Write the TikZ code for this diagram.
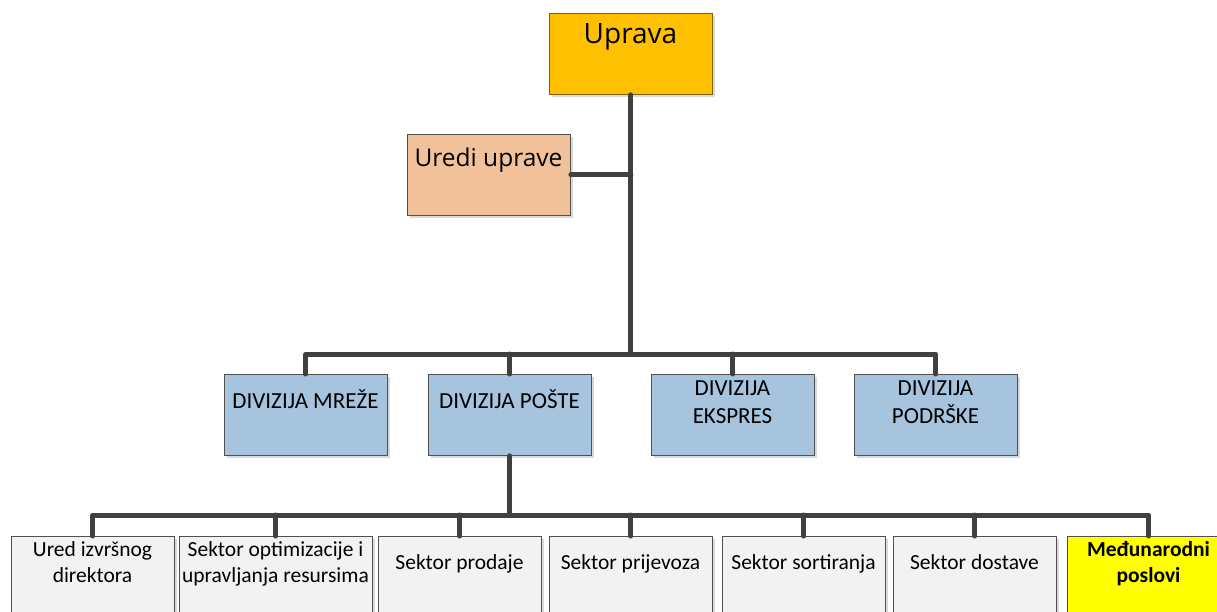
\documentclass[tikz,border=0pt]{standalone}
\usepackage{fontspec}
\setmainfont{Carlito}
\newfontfamily\osans{Open Sans}
\usetikzlibrary{shadows}
\definecolor{conncol}{HTML}{404040}
\definecolor{upravafill}{HTML}{FFC000}
\definecolor{upravaedge}{HTML}{7F6000}
\definecolor{uredfill}{HTML}{F1C29A}
\definecolor{divfill}{HTML}{A7C4DF}
\definecolor{secfill}{HTML}{F2F2F2}
\definecolor{boxedge}{HTML}{505050}
\definecolor{yel}{HTML}{FFFF00}
\begin{document}
\begin{tikzpicture}[x=1pt,y=-1pt,
  box/.style={draw=boxedge, line width=0.8pt, inner sep=0pt, anchor=north west,
    drop shadow={shadow xshift=3pt, shadow yshift=-3pt, fill=black!15, opacity=1}},
  topbox/.style={box, minimum width=163pt, minimum height=81pt},
  divbox/.style={box, fill=divfill, minimum width=163pt, minimum height=81pt},
  secbox/.style={box, fill=secfill, minimum width=163pt, minimum height=110pt},
  conn/.style={draw=conncol, line width=5pt, line cap=round, line join=round},
  lbl/.style={align=center, inner sep=0pt, text=black, anchor=base},
  toplbl/.style={lbl, font=\osans\fontsize{28}{34}\selectfont},
  uredlbl/.style={lbl, font=\osans\fontsize{24.5}{30}\selectfont},
  divlbl/.style={lbl, font=\fontsize{23}{28}\selectfont},
  seclbl/.style={lbl, font=\fontsize{21.5}{25.5}\selectfont}]
\clip (0,0) rectangle (1217,612);
\fill[white] (0,0) rectangle (1217,612);
\coordinate (bar1) at (0,354);
\coordinate (bar2) at (0,515);
% top
\node[topbox, fill=upravafill, draw=upravaedge] (uprava) at (549,13) {};
\node[toplbl] (upravaT) at (630.5,44) {Uprava};
\node[topbox, fill=uredfill, draw=boxedge] (uredi) at (407,134) {};
\node[uredlbl] (urediT) at (488.5,167) {Uredi uprave};
% divisions
\node[divbox] (mreze) at (224,374) {};
\node[divlbl] (mrezeT) at (305.5,408) {DIVIZIJA MREŽE};
\node[divbox] (poste) at (428,374) {};
\node[divlbl] (posteT) at (509.5,408) {DIVIZIJA POŠTE};
\node[divbox] (ekspres) at (651,374) {};
\node[divlbl] (ekspresT) at (732.5,423) {DIVIZIJA\\EKSPRES};
\node[divbox] (podrske) at (854,374) {};
\node[divlbl] (podrskeT) at (935.5,423) {DIVIZIJA\\PODRŠKE};
% sectors
\node[secbox] (ured) at (11,536) {};
\node[seclbl] (uredT) at (92.5,582) {Ured izvršnog\\direktora};
\node[secbox, minimum width=193pt] (optim) at (179,536) {};
\node[seclbl] (optimT) at (275.5,582) {Sektor optimizacije i\\upravljanja resursima};
\node[secbox] (prodaja) at (378,536) {};
\node[seclbl] (prodajaT) at (459.5,569) {Sektor prodaje};
\node[secbox] (prijevoz) at (549,536) {};
\node[seclbl] (prijevozT) at (630.5,569) {Sektor prijevoza};
\node[secbox] (sort) at (722,536) {};
\node[seclbl] (sortT) at (803.5,569) {Sektor sortiranja};
\node[secbox] (dostava) at (893,536) {};
\node[seclbl] (dostavaT) at (974.5,569) {Sektor dostave};
\node[secbox, fill=yel] (medj) at (1067,536) {};
\node[seclbl, font=\bfseries\fontsize{21.5}{25.5}\selectfont] (medjT) at (1148.5,582) {Međunarodni\\poslovi};
% connectors
\draw[conn] (uprava.south) -- (uprava.south |- bar1);
\draw[conn] (uredi.east) -- (uredi.east -| uprava.south);
\draw[conn] (mreze.north) -- (mreze.north |- bar1) -- (podrske.north |- bar1) -- (podrske.north);
\draw[conn] (poste.north) -- (poste.north |- bar1);
\draw[conn] (ekspres.north) -- (ekspres.north |- bar1);
\draw[conn] (poste.south) -- (poste.south |- bar2);
\draw[conn] (ured.north) -- (ured.north |- bar2) -- (medj.north |- bar2) -- (medj.north);
\draw[conn] (optim.north) -- (optim.north |- bar2);
\draw[conn] (prodaja.north) -- (prodaja.north |- bar2);
\draw[conn] (prijevoz.north) -- (prijevoz.north |- bar2);
\draw[conn] (sort.north) -- (sort.north |- bar2);
\draw[conn] (dostava.north) -- (dostava.north |- bar2);
\end{tikzpicture}
\end{document}
